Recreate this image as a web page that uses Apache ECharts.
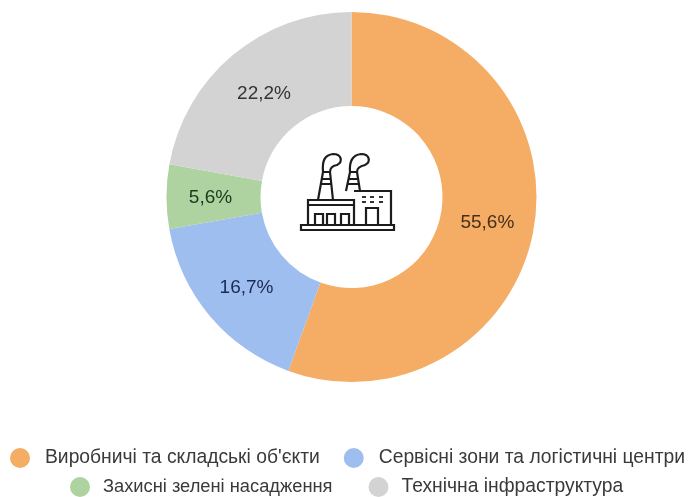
<!DOCTYPE html>
<html>
<head>
<meta charset="utf-8">
<style>html,body{margin:0;padding:0;background:#fff}#chart{width:688px;height:497px}</style>
<script src="https://cdn.jsdelivr.net/npm/echarts@6/dist/echarts.min.js"></script>
</head>
<body>
<div id="chart"></div>
<script>
const categories = ['Виробничі та складські об\'єкти', 'Сервісні зони та логістичні центри', 'Захисні зелені насадження', 'Технічна інфраструктура'];
const shares = [55.6, 16.7, 5.6, 22.2];
const colors = ['#f5ac65', '#9fbef0', '#aed2a0', '#d3d3d3'];
const labelColors = ['#46301a', '#1c2a52', '#1e3a1e', '#333333'];
const labelNudges = [[-3, 1], [3, 0], [0, 1], [3, 5]];

const FONT = '"Liberation Sans", Arial, sans-serif';

// Factory pictogram placed in the hole of the donut
const factoryOutline = [
  'M301 225H394V230H301Z',
  'M308 225V200H354V225',
  'M308 205H354',
  'M315 225V214H323V225M327 225V214H335V225M341 225V214H349V225',
  'M354 191H391V225H354',
  'M366 225V208H378V225',
  'M318 200L323 172H330L333 200',
  'M321 179H331M320 184H332',
  'M323 172C322 160 325 155 333 154C342 154 343 162 337 165C332 166 330 168 330 172',
  'M346 191L350 172H357L360 191',
  'M349 179H358M348 184H359',
  'M350 172C349 160 353 155 361 154C370 154 371 162 365 165C360 166 357 168 357 172'
].join('');
const windowDots = 'M362 197H366M370 197H374M379 197H383M362 202H366M370 202H374M379 202H383';

echarts.graphic.registerShape('factoryOutline', echarts.graphic.extendPath(factoryOutline, {}));
echarts.graphic.registerShape('factoryWindows', echarts.graphic.extendPath(windowDots, {}));

const chart = echarts.init(document.getElementById('chart'), null, {renderer: 'canvas'});
const legendBase = {
  orient: 'horizontal',
  icon: 'circle',
  padding: 0,
  width: 800,
  itemWidth: 20,
  itemHeight: 20
};
const legendText = {fontFamily: FONT, color: '#3a3a3a'};
chart.setOption({
  animation: false,
  backgroundColor: '#ffffff',
  color: colors,
  legend: [
    Object.assign({}, legendBase, {
      left: 10, top: 448, itemGap: 24,
      textStyle: Object.assign({}, legendText, {fontSize: 19.3, padding: [7, 0, 0, 10]}),
      data: categories.slice(0, 2)
    }),
    Object.assign({}, legendBase, {
      left: 70, top: 477, itemGap: 36,
      textStyle: Object.assign({}, legendText, {fontSize: 19.3, padding: [7, 0, 0, 8]}),
      data: [
        {name: categories[2], textStyle: {fontSize: 18.3}},
        {name: categories[3]}
      ]
    })
  ],
  series: [{
    type: 'pie',
    center: [351.5, 197],
    radius: [91, 185],
    startAngle: 90,
    clockwise: true,
    silent: true,
    label: {
      position: 'inside',
      formatter: p => p.value.toFixed(1).replace('.', ',') + '%',
      fontFamily: FONT,
      fontSize: 19
    },
    labelLine: {show: false},
    data: categories.map((name, i) => ({
      name,
      value: shares[i],
      label: {color: labelColors[i], offset: labelNudges[i]}
    }))
  }],
  graphic: [
    {type: 'factoryOutline', style: {fill: 'none', stroke: '#1c1c1c', lineWidth: 2.2}},
    {type: 'factoryWindows', style: {fill: 'none', stroke: '#333333', lineWidth: 2.2}}
  ]
});
</script>
</body>
</html>
